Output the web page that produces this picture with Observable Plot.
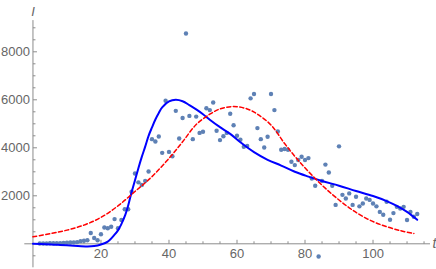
<!DOCTYPE html>
<html><head><meta charset="utf-8">
<script src="https://cdn.jsdelivr.net/npm/d3@7"></script>
<script src="https://cdn.jsdelivr.net/npm/@observablehq/plot@0.6"></script>
<style>body{margin:0;background:#fff}</style>
</head><body><div id="chart"></div>
<script>
// observed daily values, starting at day 2
const firstDay = 2;
const observed = [
  10, 10, 15, 20, 20, 25, 30, 40, 50, 55, 60, 70, 110, 130, 150,
  450, 240, 150, 400, 680, 650, 710, 1030, 650, 990, 1440, 1440, 2170, 2930,
  2560, 2450, 2620, 3010, 4360, 4260, 4470, 3790, 5960, 3830, 3650, 5540, 4390,
  5240, 8760, 5330, 4360, 5300, 4620, 4670, 5650, 5570, 5890, 4710, 4320, 4480,
  4620, 5420, 4940, 4500, 4340, 4040, 4080, 6060, 6240, 4820, 4360, 4010, 4460,
  6240, 5570, 4680, 3920, 3950, 3920, 3420, 3280, 3490, 3630, 3490, 3570, 2720,
  2420, -530, 2620, 3300, 2970, 2420, 1620, 4060, 2040, 1890, 2100, 1620, 1960,
  1560, 1680, 1890, 1830, 1680, 1560, 1330, 1210, 1750, 1000, 1280, 1540, 1470,
  1540, 990, 1330, 1125, 1240
];
// fitted model (blue solid)
const fitT = [0, 4, 8, 12, 16, 18, 20, 22, 24, 25, 26, 27, 28, 29, 30, 31, 32, 33, 34, 35, 36, 37, 38, 40, 42, 44, 46, 48, 50, 52, 55, 58, 61, 65, 69, 73, 77, 81, 85, 90, 95, 100, 104, 107, 110, 113];
const fitI = [0, -15, -45, -80, -110, -95, -30, 90, 380, 560, 820, 1150, 1600, 2150, 2650, 3150, 3620, 4050, 4500, 4850, 5180, 5450, 5680, 5930, 6000, 5940, 5780, 5600, 5400, 5170, 4860, 4580, 4230, 3820, 3500, 3260, 3000, 2800, 2620, 2420, 2200, 1990, 1780, 1580, 1330, 1000];
// bell-shaped comparison curve (red dashed)
const bellT = [0, 5, 10, 15, 20, 25, 30, 35, 40, 44, 48, 52, 55, 59, 63, 66, 70, 74, 78, 83, 88, 93, 98, 103, 108, 112];
const bellI = [290, 420, 570, 780, 1100, 1580, 2180, 2800, 3560, 4250, 4970, 5400, 5620, 5720, 5620, 5400, 4950, 4180, 3480, 2720, 2060, 1500, 1060, 760, 550, 430];

const xMajor = [20, 40, 60, 80, 100];
const xMinor = [5, 10, 15, 25, 30, 35, 45, 50, 55, 65, 70, 75, 85, 90, 95, 105, 110, 115];
const yMajor = [2000, 4000, 6000, 8000];
const yMinor = [-500, 500, 1000, 1500, 2500, 3000, 3500, 4500, 5000, 5500, 6500, 7000, 7500, 8500, 9000];
const xLabel = "t";
const yLabel = "I";

const xDomain = [-2.4, 116.9];
const yDomain = [-1000, 9300];

const points = observed.map((v, i) => ({t: firstDay + i, v}));
const fit = fitT.map((t, i) => ({t, v: fitI[i]}));
const bell = bellT.map((t, i) => ({t, v: bellI[i]}));

const tickUp = (len) => ({draw(ctx) { ctx.moveTo(0, 0); ctx.lineTo(0, -len); }});
const tickRight = (len) => ({draw(ctx) { ctx.moveTo(0, 0); ctx.lineTo(len, 0); }});

const axisColor = "#8c8c8c";
const labelColor = "#666666";
const font = "'Liberation Sans', Arial, sans-serif";

const chart = Plot.plot({
  width: 436,
  height: 269,
  marginLeft: 24.3,
  marginRight: 6,
  marginTop: 20.1,
  marginBottom: 1.7,
  style: {fontFamily: font, fontSize: "13px", background: "#fff", overflow: "visible"},
  x: {domain: xDomain, axis: null},
  y: {domain: yDomain, axis: null},
  marks: [
    Plot.ruleY([0], {stroke: axisColor, strokeWidth: 1}),
    Plot.ruleX([0], {stroke: axisColor, strokeWidth: 1}),
    Plot.dot(xMajor, {x: d => d, y: 0, symbol: tickUp(4), fill: "none", stroke: axisColor, strokeWidth: 1}),
    Plot.dot(xMinor, {x: d => d, y: 0, symbol: tickUp(2.5), fill: "none", stroke: axisColor, strokeWidth: 1}),
    Plot.dot(yMajor, {x: 0, y: d => d, symbol: tickRight(4), fill: "none", stroke: axisColor, strokeWidth: 1}),
    Plot.dot(yMinor, {x: 0, y: d => d, symbol: tickRight(2.5), fill: "none", stroke: axisColor, strokeWidth: 1}),
    Plot.text(xMajor, {x: d => d, y: 0, text: d => String(d), lineAnchor: "top", dy: 5, fill: labelColor, fontSize: 13}),
    Plot.text(yMajor, {x: 0, y: d => d, text: d => String(d), textAnchor: "end", dx: -3, fill: labelColor, fontSize: 13}),
    Plot.text([yLabel], {x: 0, y: yDomain[1], text: d => d, dy: -9, fill: labelColor, fontSize: 13, fontStyle: "italic"}),
    Plot.text([xLabel], {x: xDomain[1], y: 0, text: d => d, textAnchor: "start", dx: 2, fill: labelColor, fontSize: 14, fontStyle: "italic"}),
    Plot.dot(points, {x: "t", y: "v", r: 2.2, fill: "rgb(94,129,181)", stroke: "none"}),
    Plot.line(fit, {x: "t", y: "v", stroke: "#0000ff", strokeWidth: 2, curve: "catmull-rom"}),
    Plot.line(bell, {x: "t", y: "v", stroke: "#ff0000", strokeWidth: 1.5, strokeDasharray: "4,2.5", curve: "catmull-rom"})
  ]
});
document.getElementById("chart").appendChild(chart);
</script>
</body></html>
